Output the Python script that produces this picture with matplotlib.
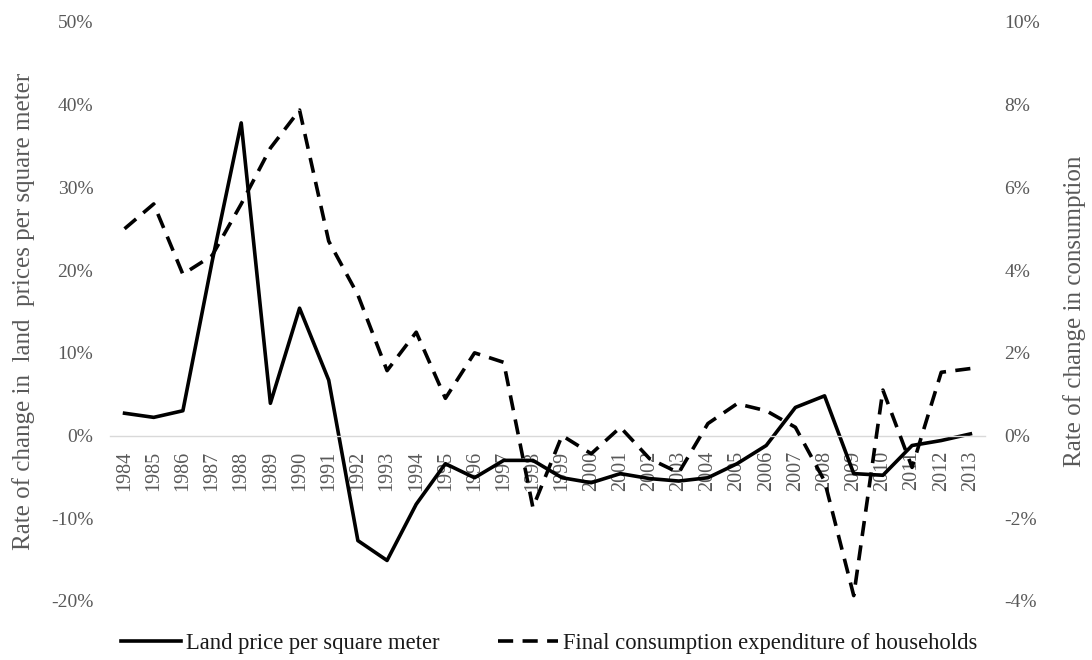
import matplotlib
matplotlib.use("Agg")
import matplotlib.pyplot as plt
import numpy as np
from matplotlib.ticker import FuncFormatter, MultipleLocator

plt.rcParams["font.family"] = ["Liberation Serif", "DejaVu Serif"]

# %% Data

years = list(range(1984, 2014))

# left axis, %
land_price = [2.7, 2.2, 3.0, 21.0, 37.8, 3.9, 15.4, 6.7, -12.7, -15.1,
              -8.3, -3.4, -5.1, -3.0, -3.0, -5.1, -5.7, -4.6, -5.2, -5.5,
              -5.1, -3.4, -1.2, 3.4, 4.8, -4.6, -4.8, -1.2, -0.6, 0.2]

# right axis, %
consumption = [5.0, 5.6, 3.9, 4.35, 5.6, 6.95, 7.87, 4.7, 3.4, 1.57,
               2.5, 0.9, 2.0, 1.77, -1.74, 0.0, -0.44, 0.2, -0.56, -0.9,
               0.29, 0.77, 0.6, 0.2, -1.1, -3.87, 1.1, -0.77, 1.53, 1.62]

left_label = "Rate of change in  land  prices per square meter"
right_label = "Rate of change in consumption"
land_name = "Land price per square meter"
cons_name = "Final consumption expenditure of households"

# %% Plot

GRAY = "#595959"
fig = plt.figure(figsize=(10.92, 6.6), dpi=100)
ax = fig.add_axes([0.1007, 0.0894, 0.8013, 0.8773])
ax2 = ax.twinx()

x = np.arange(len(years))
(l1,) = ax.plot(x, land_price, color="black", lw=2.6, label=land_name)
(l2,) = ax2.plot(x, consumption, color="black", lw=2.6, ls=(0, (4.2, 2.6)),
                 label=cons_name)

ax.set_xlim(-0.5, len(years) - 0.5)
ax.set_ylim(-20, 50)
ax2.set_ylim(-4, 10)
ax.yaxis.set_major_locator(MultipleLocator(10))
ax2.yaxis.set_major_locator(MultipleLocator(2))
pct = FuncFormatter(lambda v, _: f"{v:.0f}%")
ax.yaxis.set_major_formatter(pct)
ax2.yaxis.set_major_formatter(pct)

for a in (ax, ax2):
    for side in ("top", "left", "right", "bottom"):
        a.spines[side].set_visible(False)
# category axis sits on the zero line
ax.spines["bottom"].set_visible(True)
ax.spines["bottom"].set_position(("data", 0))
ax.spines["bottom"].set_color("#d9d9d9")
ax.spines["bottom"].set_linewidth(1.0)

ax.set_xticks(x)
ax.set_xticklabels([str(y) for y in years])
ax.tick_params(axis="x", length=0, pad=11, labelsize=14.5, labelcolor=GRAY,
               labelrotation=90)
ax.tick_params(axis="y", length=0, pad=12, labelsize=14, labelcolor=GRAY)
ax2.tick_params(axis="y", length=0, pad=14, labelsize=14, labelcolor=GRAY)

ax.set_ylabel(left_label, fontsize=18, color=GRAY)
ax2.set_ylabel(right_label, fontsize=18, color=GRAY)
ax.yaxis.set_label_coords(-0.086, 0.5)
ax2.yaxis.set_label_coords(1.089, 0.5)

fig.legend(handles=[l1, l2], loc="lower center", bbox_to_anchor=(0.503, -0.022),
           ncol=2, frameon=False, fontsize=16.3, handlelength=2.65,
           handletextpad=0.22, columnspacing=2.6, labelcolor="#1a1a1a")

fig.savefig("out.png", dpi=100)
